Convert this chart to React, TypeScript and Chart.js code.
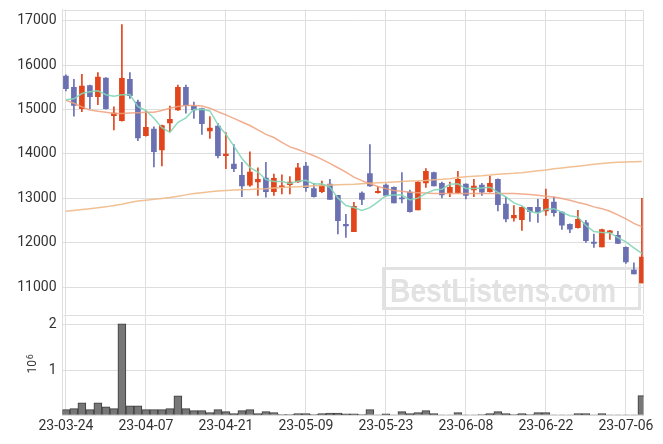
import React, { useEffect, useRef } from 'react';
import { Chart, registerables } from 'chart.js';

Chart.register(...registerables);

const dates = [
  '23-03-24','23-03-27','23-03-28','23-03-29','23-03-30','23-03-31',
  '23-04-03','23-04-04','23-04-05','23-04-06','23-04-07',
  '23-04-10','23-04-11','23-04-12','23-04-13','23-04-14',
  '23-04-17','23-04-18','23-04-19','23-04-20','23-04-21',
  '23-04-24','23-04-25','23-04-26','23-04-27','23-04-28',
  '23-05-02','23-05-03','23-05-04','23-05-08','23-05-09',
  '23-05-10','23-05-11','23-05-12',
  '23-05-15','23-05-16','23-05-17','23-05-18','23-05-19',
  '23-05-22','23-05-23',
  '23-05-24','23-05-25','23-05-26',
  '23-05-30','23-05-31','23-06-01','23-06-02',
  '23-06-05','23-06-07','23-06-08',
  '23-06-09',
  '23-06-12','23-06-13','23-06-14','23-06-15','23-06-16',
  '23-06-19','23-06-20','23-06-21','23-06-22',
  '23-06-23',
  '23-06-26','23-06-27','23-06-28','23-06-29','23-06-30',
  '23-07-03','23-07-04','23-07-05','23-07-06',
  '23-07-07','23-07-10',
];

const opens = [
  15750,15500,15020,15540,15290,15710,14860,14750,15680,15170,
  14410,14560,14090,14700,14990,15500,15080,15020,14520,14630,
  13960,13770,13520,13300,13370,13460,13150,13260,13310,13370,
  13730,13220,13150,13320,13070,12420,12250,13120,13560,13130,
  13300,13250,13010,13140,12740,13350,13580,13340,13130,13130,
  13320,13190,13300,13150,13430,12870,12560,12520,12800,12800,
  12720,12920,12690,12420,12340,12450,12020,11910,12230,12170,
  11900,11390,11100,
];
const highs = [
  15780,15680,15790,15550,15830,15720,15060,16910,15830,15210,
  14970,14610,14650,15080,15550,15550,15170,15030,14840,14690,
  14480,14210,13810,14050,13690,13810,13550,13530,13490,13790,
  13810,13340,13390,13430,13070,12640,12910,13150,14210,13260,
  13330,13260,13580,13190,13380,13670,13590,13370,13370,13610,
  13330,13430,13340,13500,13440,13030,12840,12810,12800,12980,
  13210,13030,12700,12430,12730,12510,12200,12310,12280,12260,
  11910,11550,13000,
];
const lows = [
  15420,14850,14950,15020,15110,15010,14540,14740,15250,14300,
  14400,13710,13730,14500,14980,14920,14800,14440,14350,13910,
  13670,13600,13040,13270,13070,13030,13070,13100,13100,13360,
  13160,13030,13130,12980,12200,12120,12250,12860,13270,13120,
  13050,12900,12900,12690,12740,13250,13280,13010,13040,13110,
  12990,13040,13070,13140,12720,12470,12490,12280,12480,12460,
  12620,12600,12300,12230,12330,12010,11900,11910,12080,11980,
  11540,11300,11100,
];
const closes = [
  15470,15090,15530,15290,15730,15020,14920,15700,15310,14360,
  14600,14050,14640,14780,15500,15090,14990,14680,14580,13960,
  14000,13670,13280,13590,13430,13150,13450,13280,13370,13690,
  13240,13040,13300,12980,12500,12380,12820,12980,13280,13160,
  13070,12900,12990,12700,13370,13610,13280,13080,13250,13430,
  13070,13280,13140,13340,12860,12540,12620,12800,12700,12690,
  12980,12680,12400,12310,12530,12050,11990,12300,12270,11990,
  11570,11300,11680,
];
const ma5 = [
  15220,15240,15360,15400,15422,15332,15298,15332,15336,15062,
  14978,14804,14592,14486,14714,14812,15000,15008,14968,14660,
  14442,14178,13898,13700,13594,13424,13380,13380,13336,13388,
  13406,13324,13328,13250,13012,12840,12796,12732,12792,12924,
  13062,13078,13080,12964,13006,13114,13190,13208,13318,13330,
  13222,13222,13234,13252,13138,13032,12900,12832,12704,12670,
  12758,12770,12690,12612,12580,12394,12256,12236,12228,12120,
  12024,11886,11762,
];
const ma20 = [
  15210,15140,15060,14990,14960,14940,14910,14910,14920,14930,
  14940,14940,14980,15030,15070,15090,15090,15080,15030,14950,
  14880,14800,14720,14640,14540,14440,14370,14260,14160,14100,
  14030,13960,13880,13790,13690,13590,13480,13400,13330,13270,
  13220,13180,13160,13140,13130,13120,13110,13110,13110,13110,
  13110,13110,13110,13110,13110,13110,13110,13100,13090,13070,
  13050,13030,13000,12960,12910,12870,12810,12770,12710,12630,
  12540,12440,12360,
];
const ma120 = [
  12710,12730,12750,12770,12790,12810,12840,12870,12910,12940,
  12960,12980,13000,13020,13050,13080,13110,13130,13150,13165,
  13180,13190,13195,13200,13210,13220,13235,13245,13255,13265,
  13275,13285,13290,13300,13310,13315,13320,13330,13340,13350,
  13360,13370,13380,13390,13395,13405,13420,13430,13445,13470,
  13490,13500,13510,13525,13545,13555,13565,13580,13600,13620,
  13640,13665,13685,13705,13725,13745,13770,13785,13800,13815,
  13820,13825,13830,
];
const volumes = [
  125000,148000,273000,125000,273000,185000,148000,2020000,207000,207000,
  125000,125000,125000,148000,428000,148000,103000,103000,60000,125000,
  80000,37000,103000,125000,37000,80000,60000,15000,15000,37000,
  37000,15000,37000,50000,50000,30000,30000,15000,125000,10000,
  30000,10000,80000,37000,60000,103000,37000,10000,10000,60000,
  10000,10000,15000,37000,80000,37000,15000,37000,15000,60000,
  60000,10000,10000,10000,37000,37000,10000,37000,10000,10000,
  10000,10000,435000,
];
const xTickIdx = [0, 10, 20, 30, 40, 50, 60, 70];
const priceTicks = [11000, 12000, 13000, 14000, 15000, 16000, 17000];
const volTicks = [0, 1000000, 2000000];

const UP = '#e2451b';
const DOWN = '#6b70b2';
const GRID = '#dedede';
const TEXT = '#333333';
const FONT = { family: 'Roboto', size: 14 };

const candleColors = opens.map((o, i) => (closes[i] >= o ? UP : DOWN));

const zeroPad = (s: any) => {
  s.paddingTop = 0;
  s.paddingBottom = 0;
  s.paddingLeft = 0;
  s.paddingRight = 0;
};

const xScale = (showLabels: boolean, height: number) => ({
  type: 'linear',
  min: -0.425,
  max: 72.2,
  offset: false,
  afterBuildTicks: (axis: any) => {
    axis.ticks = xTickIdx.map((v) => ({ value: v }));
  },
  afterFit: (s: any) => {
    s.height = height;
    zeroPad(s);
  },
  ticks: {
    display: showLabels,
    autoSkip: false,
    maxRotation: 0,
    font: FONT,
    color: TEXT,
    padding: 3,
    callback: (v: any) => dates[v] ?? '',
  },
  grid: { color: GRID, drawTicks: false, offset: false },
  border: { color: GRID },
});

const framePlugin = {
  id: 'frame',
  beforeDatasetsDraw(chart: any) {
    const { ctx, chartArea } = chart;
    const l = Math.round(chartArea.left) + 0.5;
    const t = Math.round(chartArea.top) + 0.5;
    const r = Math.round(chartArea.right) - 0.5;
    const b = Math.round(chartArea.bottom);
    ctx.save();
    ctx.strokeStyle = GRID;
    ctx.lineWidth = 1;
    ctx.beginPath();
    ctx.moveTo(l, t);
    ctx.lineTo(r, t);
    ctx.lineTo(r, b);
    ctx.stroke();
    ctx.restore();
  },
};

const watermarkPlugin = {
  id: 'watermark',
  beforeDatasetsDraw(chart: any) {
    const { ctx } = chart;
    ctx.save();
    ctx.strokeStyle = '#e2e2e2';
    ctx.lineWidth = 3;
    ctx.strokeRect(383.5, 268.5, 256, 40);
    const text = 'BestListens.com';
    ctx.font = 'bold 34px "Liberation Sans", Arial, sans-serif';
    const w = ctx.measureText(text).width;
    ctx.translate(390, 302);
    ctx.scale(226 / w, 1);
    ctx.fillStyle = '#e2e2e2';
    ctx.textBaseline = 'alphabetic';
    ctx.textAlign = 'left';
    ctx.fillText(text, 0, 0);
    ctx.restore();
  },
};

const volTitlePlugin = {
  id: 'volTitle',
  afterDraw(chart: any) {
    const { ctx } = chart;
    ctx.save();
    ctx.translate(33.3, 52.7);
    ctx.rotate(-Math.PI / 2);
    ctx.fillStyle = TEXT;
    ctx.font = '12px Roboto';
    ctx.textAlign = 'center';
    ctx.textBaseline = 'middle';
    ctx.fillText('10', 0, 0);
    ctx.font = '9px Roboto';
    ctx.textAlign = 'left';
    ctx.textBaseline = 'alphabetic';
    ctx.fillText('6', 7.5, -0.5);
    ctx.restore();
  },
};

function lineDs(values: number[], color: string) {
  return {
    type: 'line',
    data: values.map((v, i) => ({ x: i, y: v })),
    borderColor: color,
    borderWidth: 1.5,
    pointRadius: 0,
    fill: false,
    tension: 0,
    order: 0,
  };
}

export default function App() {
  const refA = useRef<HTMLCanvasElement>(null);
  const refB = useRef<HTMLCanvasElement>(null);

  useEffect(() => {
    const priceChart = new Chart(refA.current as HTMLCanvasElement, {
      type: 'bar',
      data: {
        datasets: [
          lineDs(ma5, 'rgba(130,214,184,0.9)'),
          lineDs(ma20, 'rgba(238,160,125,0.85)'),
          lineDs(ma120, 'rgba(240,185,135,0.9)'),
          {
            type: 'bar',
            data: opens.map((o, i) => ({ x: i, y: [o, closes[i]] })),
            backgroundColor: candleColors,
            borderWidth: 0,
            barThickness: 5,
            minBarLength: 1,
            grouped: false,
            order: 1,
          },
          {
            type: 'bar',
            data: lows.map((l, i) => ({ x: i, y: [l, highs[i]] })),
            backgroundColor: candleColors,
            borderWidth: 0,
            barThickness: 1,
            grouped: false,
            order: 2,
          },
        ] as any,
      },
      options: {
        animation: false,
        responsive: false,
        devicePixelRatio: 1,
        layout: { padding: { left: 0, right: 19.5, top: 9.5, bottom: 0 } },
        plugins: { legend: { display: false }, tooltip: { enabled: false } },
        scales: {
          x: xScale(false, 0) as any,
          y: {
            type: 'linear',
            min: 10400,
            max: 17250,
            beginAtZero: false,
            afterBuildTicks: (axis: any) => {
              axis.ticks = priceTicks.map((v) => ({ value: v }));
            },
            afterFit: (s: any) => {
              s.width = 62.5;
              zeroPad(s);
            },
            ticks: { font: FONT, color: TEXT, padding: 6, callback: (v: any) => String(v) },
            grid: { color: GRID, drawTicks: false },
            border: { color: GRID },
          },
        },
      } as any,
      plugins: [framePlugin, watermarkPlugin],
    });

    const volChart = new Chart(refB.current as HTMLCanvasElement, {
      type: 'bar',
      data: {
        datasets: [
          {
            data: volumes.map((v, i) => ({ x: i, y: v })),
            backgroundColor: '#777777',
            borderColor: '#3c3c3c',
            borderWidth: 1,
            barThickness: 8,
            grouped: false,
          },
        ] as any,
      },
      options: {
        animation: false,
        responsive: false,
        devicePixelRatio: 1,
        layout: { padding: { left: 0, right: 19.5, top: 0.5, bottom: 0 } },
        plugins: { legend: { display: false }, tooltip: { enabled: false } },
        scales: {
          x: xScale(true, 28.7) as any,
          y: {
            type: 'linear',
            min: 0,
            max: 2226000,
            afterBuildTicks: (axis: any) => {
              axis.ticks = volTicks.map((v) => ({ value: v }));
            },
            afterFit: (s: any) => {
              s.width = 62.5;
              zeroPad(s);
            },
            ticks: {
              font: FONT,
              color: TEXT,
              padding: 6,
              callback: (v: any) => (v === 0 ? '' : String(v / 1000000)),
            },
            grid: { color: GRID, drawTicks: false },
            border: { color: GRID },
          },
        },
      } as any,
      plugins: [framePlugin, volTitlePlugin],
    });

    return () => {
      priceChart.destroy();
      volChart.destroy();
    };
  }, []);

  return (
    <div style={{ position: 'absolute', left: 0, top: 0, width: 663, height: 444, background: '#ffffff' }}>
      <canvas ref={refA} width={663} height={314} style={{ position: 'absolute', left: 0, top: 0 }} />
      <canvas ref={refB} width={663} height={130} style={{ position: 'absolute', left: 0, top: 314 }} />
    </div>
  );
}
